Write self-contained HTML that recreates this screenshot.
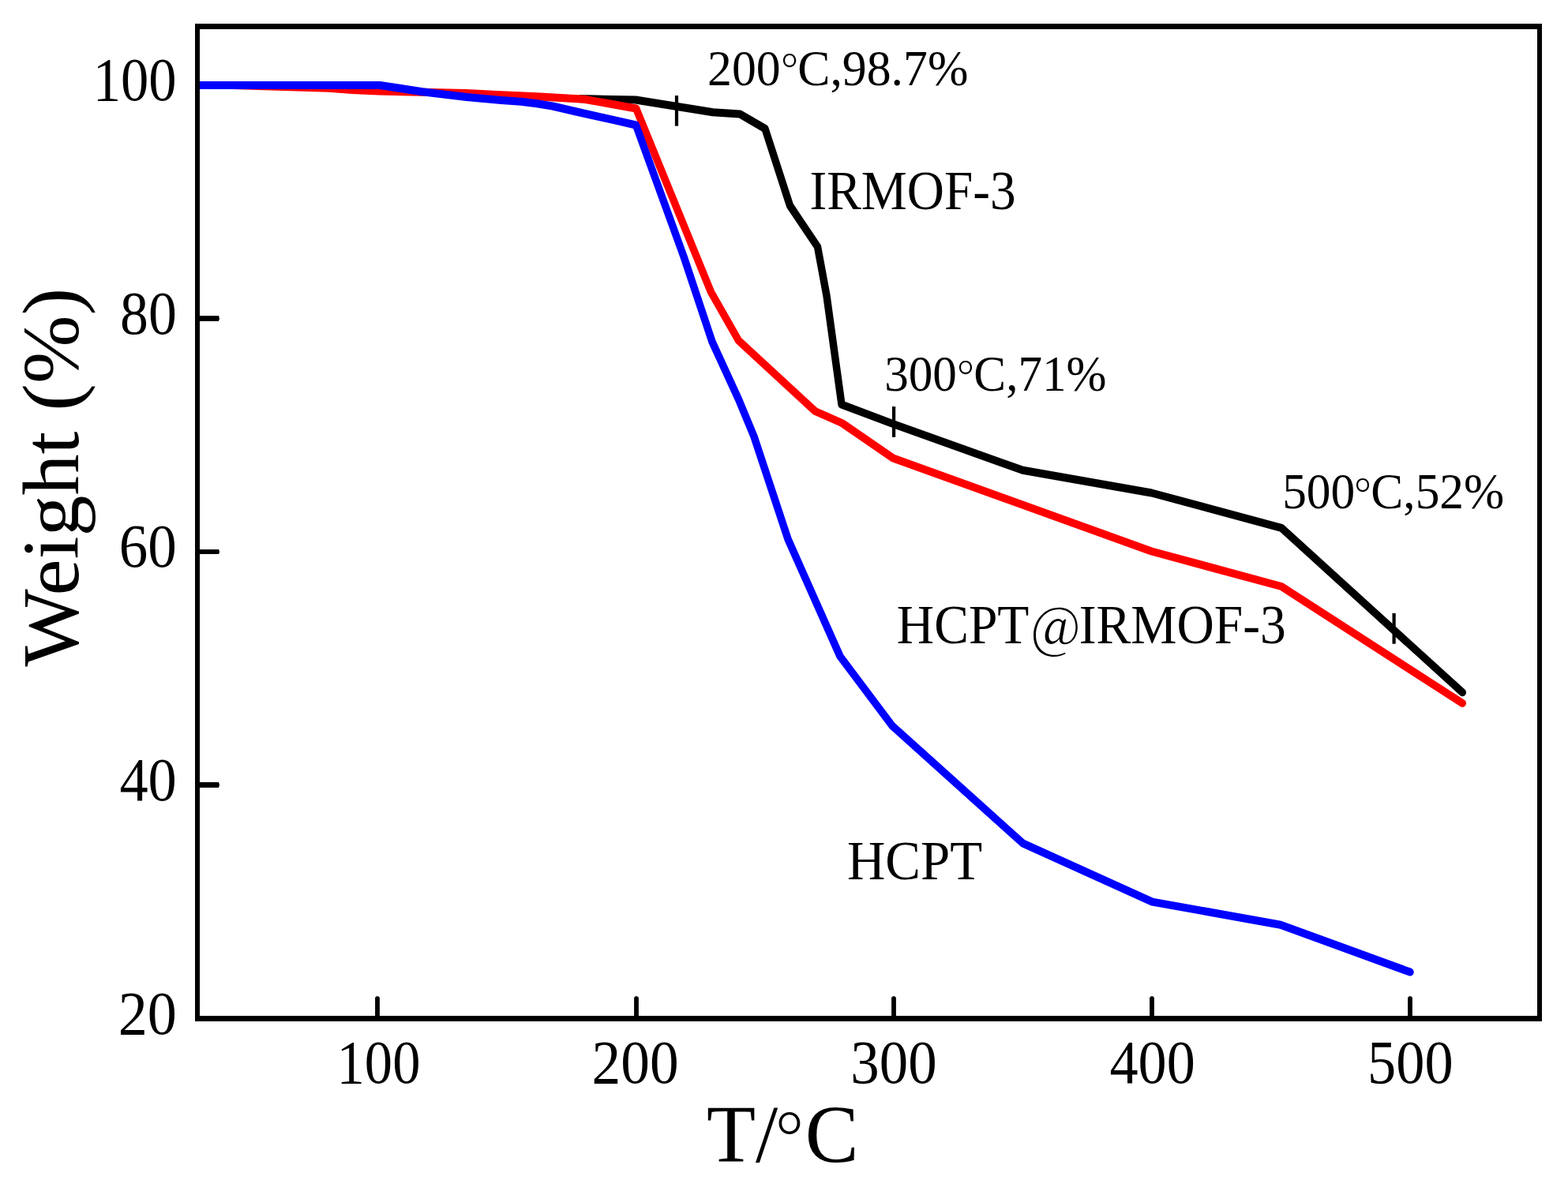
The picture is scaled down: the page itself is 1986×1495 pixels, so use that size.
<!DOCTYPE html>
<html><head><meta charset="utf-8"><title>TGA</title>
<style>html,body{margin:0;padding:0;background:#fff;}svg{display:block;}</style>
</head><body>
<svg width="1986" height="1495" viewBox="0 0 1986 1495"><rect x="0" y="0" width="1986" height="1495" fill="#fff"/>
<polyline transform="scale(0.945,1)" points="777.78,125.3 788.36,125.3 851.85,126.5 955.56,142.2 991.53,144.4 1025.40,163 1058.73,260.5 1095.77,312.6 1107.94,374.8 1128.04,512.5 1197.88,537.4 1370.79,595.8 1543.39,624.5 1717.46,668.8 1960.11,877.3" fill="none" stroke="#000" stroke-width="10" stroke-linejoin="round" stroke-linecap="round"/>
<polyline transform="scale(0.945,1)" points="267.72,107.9 311.11,108 441.27,111.8 471.96,113.9 507.94,115.5 577.78,117 624.34,118 671.96,120.3 719.58,122.2 783.07,125.7 852.59,137.5 952.91,370 989.95,431.5 1092.59,521 1128.57,536 1197.04,580.5 1543.39,698.5 1717.46,743 1960.11,891" fill="none" stroke="#f00" stroke-width="10" stroke-linejoin="round" stroke-linecap="round"/>
<polyline transform="scale(0.945,1)" points="267.72,108 508.99,108 566.14,116.2 625.40,123 671.96,126.9 698.41,128.7 719.58,131.3 740.74,134.5 772.49,141.5 826.46,152.9 852.38,158.5 916.40,325 954.50,433 989.95,506 1010.58,553 1056.08,683 1125.93,831.5 1195.77,919.5 1370.79,1068.3 1544.44,1142.6 1716.40,1171.8 1889.95,1231.6" fill="none" stroke="#00f" stroke-width="10" stroke-linejoin="round" stroke-linecap="round"/>
<g>
<g fill="#000">
<rect x="247" y="30" width="1706" height="7"/>
<rect x="247" y="1287" width="1706" height="7"/>
<rect x="247" y="30" width="6" height="1264"/>
<rect x="1947" y="30" width="6" height="1264"/>
</g>
<rect x="252" y="400.05" width="25.2" height="6.85" fill="#000"/>
<rect x="276" y="401.68" width="1.8" height="3.6" fill="#000"/>
<rect x="252" y="696.1" width="25.2" height="5.85" fill="#000"/>
<rect x="276" y="697.23" width="1.8" height="3.6" fill="#000"/>
<rect x="252" y="991.0" width="25.2" height="6.9" fill="#000"/>
<rect x="276" y="992.65" width="1.8" height="3.6" fill="#000"/>
<rect x="475.1" y="1263.4" width="5.8" height="25" fill="#000"/>
<rect x="476.4" y="1262.2" width="3.2" height="2" fill="#000"/>
<rect x="803.1" y="1263.4" width="5.8" height="25" fill="#000"/>
<rect x="804.4" y="1262.2" width="3.2" height="2" fill="#000"/>
<rect x="1129.1" y="1263.4" width="5.8" height="25" fill="#000"/>
<rect x="1130.4" y="1262.2" width="3.2" height="2" fill="#000"/>
<rect x="1456.1" y="1263.4" width="5.8" height="25" fill="#000"/>
<rect x="1457.4" y="1262.2" width="3.2" height="2" fill="#000"/>
<rect x="1783.1" y="1263.4" width="5.8" height="25" fill="#000"/>
<rect x="1784.4" y="1262.2" width="3.2" height="2" fill="#000"/>
<rect x="854.9" y="121.1" width="4.2" height="38.5" fill="#000"/>
<rect x="1130" y="515" width="4.2" height="38.8" fill="#000"/>
<rect x="1763.5" y="776.9" width="4.2" height="38.8" fill="#000"/>
</g>
<text transform="translate(896.02,0) scale(0.965,1)" font-size="64.0" font-family="'Liberation Serif', serif"><tspan x="0.0" y="107.7">200</tspan><tspan x="96.76" y="116.45" font-family="'Noto Serif CJK SC', serif" font-size="64.0">°</tspan><tspan x="118.38" y="107.7">C,98.7%</tspan></text>
<text transform="translate(1120.15,0) scale(0.9558,1)" font-size="64.0" font-family="'Liberation Serif', serif"><tspan x="0.0" y="495.3">300</tspan><tspan x="96.66" y="504.75" font-family="'Noto Serif CJK SC', serif" font-size="64.0">°</tspan><tspan x="118.45" y="495.3">C,71%</tspan></text>
<text transform="translate(1624.14,0) scale(0.9598,1)" font-size="64.0" font-family="'Liberation Serif', serif"><tspan x="0.0" y="644.3">500</tspan><tspan x="95.07" y="653.55" font-family="'Noto Serif CJK SC', serif" font-size="64.0">°</tspan><tspan x="116.9" y="644.3">C,52%</tspan></text>
<text transform="translate(894.98,0) scale(0.9769,1)" font-size="104.0" font-family="'Liberation Serif', serif"><tspan x="0.0" y="1472.0">T/</tspan><tspan x="89.62" y="1486.5" font-family="'Noto Serif CJK SC', serif" font-size="104.0">°</tspan><tspan x="127.68" y="1472.0">C</tspan></text>
<text transform="translate(1025.43,265.0) scale(0.9496,1)" font-size="68.8" font-family="'Liberation Serif', serif">IRMOF-3</text>
<text transform="translate(1135.86,0) scale(0.9529,1)" font-size="68.8" font-family="'Liberation Serif', serif"><tspan x="0.0" y="815.5">HCPT</tspan><tspan x="178.7" y="819.65" font-family="'Noto Serif CJK SC', serif" font-size="70.7">@</tspan><tspan x="242.19" y="815.5">IRMOF-3</tspan></text>
<text transform="translate(1072.95,1113.7) scale(0.9737,1)" font-size="68.8" font-family="'Liberation Serif', serif">HCPT</text>
<text transform="translate(426.54,1372.0) scale(0.9127,1)" font-size="77.4" font-family="'Liberation Serif', serif">100</text>
<text transform="translate(749.48,1372.0) scale(0.9485,1)" font-size="77.4" font-family="'Liberation Serif', serif">200</text>
<text transform="translate(1077.27,1372.0) scale(0.9425,1)" font-size="77.4" font-family="'Liberation Serif', serif">300</text>
<text transform="translate(1405.5,1372.0) scale(0.9324,1)" font-size="77.4" font-family="'Liberation Serif', serif">400</text>
<text transform="translate(1732.09,1372.0) scale(0.9352,1)" font-size="77.4" font-family="'Liberation Serif', serif">500</text>
<text transform="translate(117.74,126.9) scale(0.9127,1)" font-size="77.4" font-family="'Liberation Serif', serif">100</text>
<text transform="translate(152.02,422.9) scale(0.9273,1)" font-size="77.4" font-family="'Liberation Serif', serif">80</text>
<text transform="translate(150.73,718.2) scale(0.944,1)" font-size="77.4" font-family="'Liberation Serif', serif">60</text>
<text transform="translate(151.4,1013.9) scale(0.9351,1)" font-size="77.4" font-family="'Liberation Serif', serif">40</text>
<text transform="translate(149.64,1309.9) scale(0.9592,1)" font-size="77.4" font-family="'Liberation Serif', serif">20</text>
<text transform="translate(99,844.4) rotate(-90) scale(1.0,0.985)" font-size="104" font-family="'Liberation Serif', serif">Weight (%)</text></svg>
</body></html>
